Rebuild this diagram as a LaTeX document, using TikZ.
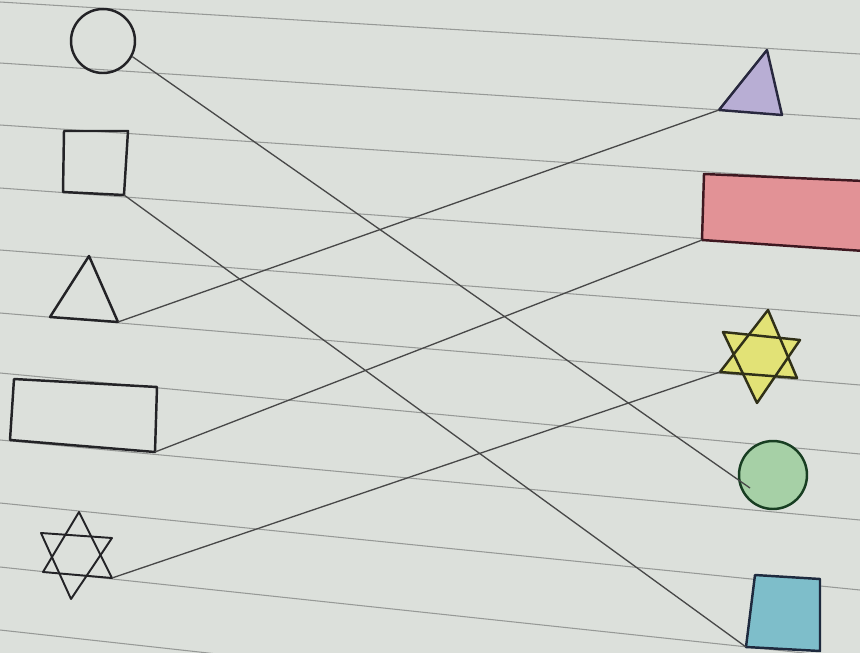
\documentclass[tikz,border=0pt]{standalone}
\usepackage{xcolor}
\definecolor{paperbg}{RGB}{220,224,219}
\definecolor{ruleline}{RGB}{150,153,150}
\definecolor{pencil}{RGB}{72,72,72}
\definecolor{inkdark}{RGB}{35,35,38}
\definecolor{lilacink}{RGB}{40,40,62}
\definecolor{roseink}{RGB}{62,24,32}
\definecolor{lemonink}{RGB}{48,48,24}
\definecolor{mintink}{RGB}{24,62,34}
\definecolor{skyink}{RGB}{30,42,62}
\definecolor{lilacfill}{RGB}{184,174,212}
\definecolor{rosefill}{RGB}{226,146,150}
\definecolor{lemonfill}{RGB}{226,226,118}
\definecolor{mintfill}{RGB}{166,208,166}
\definecolor{skyfill}{RGB}{126,190,202}
\usepackage{tikz}
\usetikzlibrary{positioning}

\begin{document}
\begin{tikzpicture}[x=0.02cm, y=-0.02cm,
  ink/.style={draw=inkdark, line width=1.4pt, line join=round},
  link/.style={draw=pencil, line width=0.75pt},
  ruled/.style={draw=ruleline, line width=0.6pt}]

  % Paper with ruled lines
  \fill[paperbg] (0,0) rectangle (860,653);
  \useasboundingbox (0,0) rectangle (860,653);
  \begin{scope}
    \clip (0,0) rectangle (860,653);
    \draw[ruled] (0,2) -- (860,54);
    \draw[ruled] (0,63) -- (860,119);
    \draw[ruled] (0,125) -- (860,182);
    \draw[ruled] (0,188) -- (860,250);
    \draw[ruled] (0,250) -- (860,316);
    \draw[ruled] (0,313) -- (860,385);
    \draw[ruled] (0,373) -- (860,454);
    \draw[ruled] (0,440) -- (860,520);
    \draw[ruled] (0,503) -- (860,590);
    \draw[ruled] (0,567) -- (860,659);
    \draw[ruled] (0,630) -- (860,725);
  \end{scope}

  % Left column
  \node[circle, ink, minimum size=1.28cm, inner sep=0pt] (lcircle)
    at (103,41) {};

  \coordinate (lsq1) at (64,131);
  \coordinate (lsq2) at (128,131);
  \coordinate (lsq3) at (124,195);
  \coordinate (lsq4) at (63,192);
  \draw[ink] (lsq1) -- (lsq2) -- (lsq3) -- (lsq4) -- cycle;

  \coordinate (ltri1) at (89,256);
  \coordinate (ltri2) at (50,317);
  \coordinate (ltri3) at (118,322);
  \draw[ink] (ltri1) -- (ltri2) -- (ltri3) -- cycle;

  \coordinate (lrect1) at (14,379);
  \coordinate (lrect2) at (157,387);
  \coordinate (lrect3) at (155,452);
  \coordinate (lrect4) at (10,440);
  \draw[ink] (lrect1) -- (lrect2) -- (lrect3) -- (lrect4) -- cycle;

  \coordinate (lstar1) at (79,512);
  \coordinate (lstar2) at (43,572);
  \coordinate (lstar3) at (112,578);
  \coordinate (lstar4) at (41,533);
  \coordinate (lstar5) at (112,538);
  \coordinate (lstar6) at (71,599);
  \draw[ink, line width=1.1pt] (lstar1) -- (lstar2) -- (lstar3) -- cycle;
  \draw[ink, line width=1.1pt] (lstar4) -- (lstar5) -- (lstar6) -- cycle;

  % Right column
  \coordinate (rtri1) at (767,50);
  \coordinate (rtri2) at (719,110);
  \coordinate (rtri3) at (782,115);
  \draw[ink, draw=lilacink, fill=lilacfill]
    (rtri1) -- (rtri2) -- (rtri3) -- cycle;

  \coordinate (rrect1) at (704,174);
  \coordinate (rrect2) at (864,181);
  \coordinate (rrect3) at (864,251);
  \coordinate (rrect4) at (702,240);
  \draw[ink, draw=roseink, fill=rosefill]
    (rrect1) -- (rrect2) -- (rrect3) -- (rrect4) -- cycle;

  \coordinate (rstar1) at (768,310);
  \coordinate (rstar2) at (720,372);
  \coordinate (rstar3) at (797,378);
  \coordinate (rstar4) at (723,332);
  \coordinate (rstar5) at (800,340);
  \coordinate (rstar6) at (757,403);
  \fill[lemonfill] (rstar1) -- (rstar2) -- (rstar3) -- cycle;
  \fill[lemonfill] (rstar4) -- (rstar5) -- (rstar6) -- cycle;
  \draw[ink, draw=lemonink] (rstar1) -- (rstar2) -- (rstar3) -- cycle;
  \draw[ink, draw=lemonink] (rstar4) -- (rstar5) -- (rstar6) -- cycle;

  \node[circle, ink, draw=mintink, fill=mintfill, minimum size=1.36cm,
        inner sep=0pt] (rcircle) at (773,475) {};
  \coordinate (gend) at (750,488);

  \coordinate (rsq1) at (755,575);
  \coordinate (rsq2) at (820,579);
  \coordinate (rsq3) at (820,651);
  \coordinate (rsq4) at (746,647);
  \draw[ink, draw=skyink, fill=skyfill]
    (rsq1) -- (rsq2) -- (rsq3) -- (rsq4) -- cycle;

  % Matching lines
  \draw[link] (lcircle.-28) -- (gend);
  \draw[link] (lsq3) -- (rsq4);
  \draw[link] (ltri3) -- (rtri2);
  \draw[link] (lrect3) -- (rrect4);
  \draw[link] (lstar3) -- (rstar2);

\end{tikzpicture}
\end{document}
